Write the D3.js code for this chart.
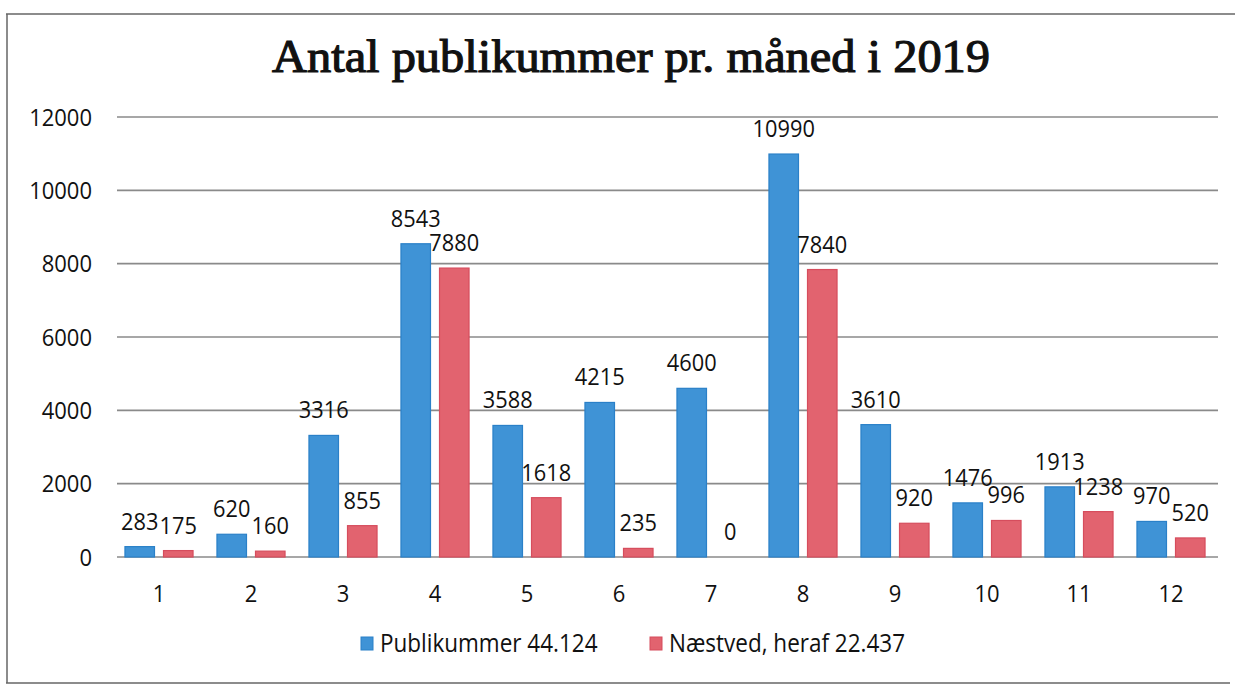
<!DOCTYPE html>
<html><head><meta charset="utf-8">
<script src="https://cdn.jsdelivr.net/npm/d3@7"></script>
<style>body{margin:0;background:#fff}svg{display:block}</style>
</head><body>
<svg id="c" width="1235" height="686"></svg>
<script>
const months = ["1","2","3","4","5","6","7","8","9","10","11","12"];
const publikum = [283,620,3316,8543,3588,4215,4600,10990,3610,1476,1913,970];
const naestved = [175,160,855,7880,1618,235,0,7840,920,996,1238,520];
const seriesNames = ["Publikummer 44.124","Næstved, heraf 22.437"];
const yTicks = [0,2000,4000,6000,8000,10000,12000];
const title = "Antal publikummer pr. måned i 2019";

const colors = [{fill:"#3f93d6",stroke:"#2a80c8"},{fill:"#e2636f",stroke:"#d64d5d"}];
const svg = d3.select("#c");
const font = "'Open Sans', sans-serif";
const SY = 1.1;

function label(sel, x, y, txt, anchor, size){
  return sel.append("text").attr("transform",`translate(${x},${y}) scale(1,${SY})`)
    .attr("text-anchor",anchor).attr("font-family",font).attr("font-size",size).attr("fill","#111").text(txt);
}

// frame
svg.append("line").attr("x1",6).attr("x2",1235).attr("y1",14).attr("y2",14).attr("stroke","#666").attr("stroke-width",1.5);
svg.append("line").attr("x1",7).attr("x2",7).attr("y1",14).attr("y2",683).attr("stroke","#666").attr("stroke-width",1.5);
svg.append("line").attr("x1",6).attr("x2",1230).attr("y1",683).attr("y2",683).attr("stroke","#666").attr("stroke-width",1.5);

svg.append("text").attr("transform","translate(631,72) scale(1,1.08)").attr("text-anchor","middle")
  .attr("font-family","'Liberation Serif', serif").attr("font-size",43).attr("font-weight","normal")
  .attr("stroke","#111").attr("stroke-width",1.1)
  .attr("textLength",718).attr("lengthAdjust","spacingAndGlyphs").attr("fill","#111").text(title);

const x0 = d3.scaleBand().domain(months).range([113,1217]).paddingInner(0.26).paddingOuter(0.13);
const x1 = d3.scaleBand().domain([0,1]).range([0,x0.bandwidth()]).paddingInner(0.234);
const y = d3.scaleLinear().domain([0,12000]).range([557,117]);

// grid
svg.append("g").selectAll("line").data(yTicks).join("line")
  .attr("x1",117).attr("x2",1218).attr("y1",d=>y(d)).attr("y2",d=>y(d))
  .attr("stroke","#8a8a8a").attr("stroke-width",1.6);

// y labels
const ya = svg.append("g");
yTicks.forEach(t=>label(ya, 92, y(t)+8.5, d3.format("d")(t), "end", 22));

// x labels
const xa = svg.append("g");
months.forEach(m=>label(xa, x0(m)+x0.bandwidth()/2, 602, m, "middle", 22));

[publikum, naestved].forEach((vals,si)=>{
  const gg = svg.append("g");
  gg.selectAll("rect").data(vals).join("rect")
    .attr("x",(d,i)=>x0(months[i])+x1(si)).attr("width",x1.bandwidth())
    .attr("y",d=>y(d)).attr("height",d=>y(0)-y(d))
    .attr("fill",colors[si].fill).attr("stroke",colors[si].stroke).attr("stroke-width",1.2);
  const lg = svg.append("g");
  vals.forEach((d,i)=>label(lg, x0(months[i])+x1(si)+x1.bandwidth()/2, y(d)-17, d, "middle", 21.8));
});

// legend
const leg = svg.append("g");
const legX = [361,650];
seriesNames.forEach((n,i)=>{
  leg.append("rect").attr("x",legX[i]).attr("y",637).attr("width",12).attr("height",13)
    .attr("fill",colors[i].fill).attr("stroke",colors[i].stroke);
  label(leg, legX[i]+19, 652, n, "start", 22.5);
});
</script>
</body></html>
